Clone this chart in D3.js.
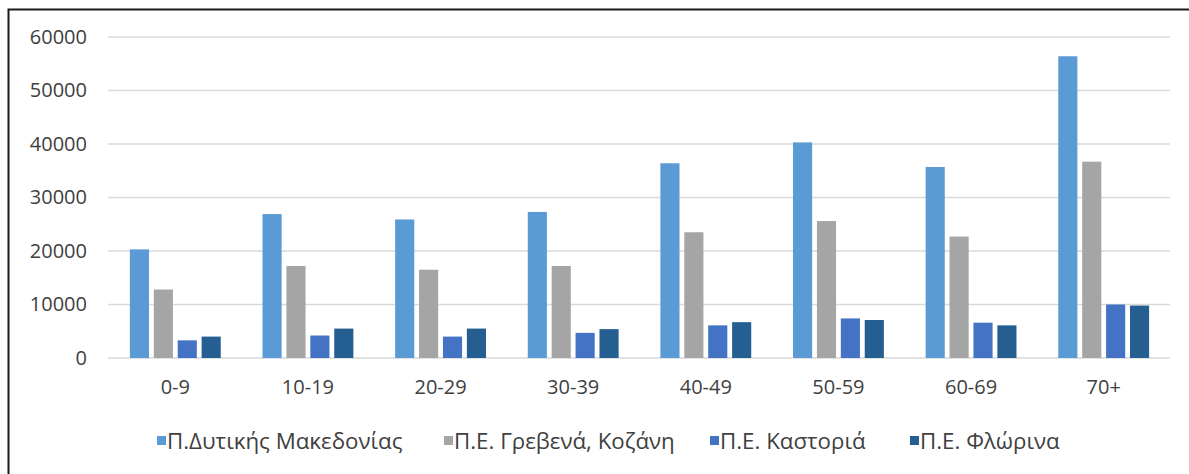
<!DOCTYPE html>
<head>
    <meta charset="utf-8" />
    <script src="https://d3js.org/d3.v7.min.js"></script>
    <style>
        body { margin: 0; background: #fff; }
        text { font-family: "Open Sans", "Noto Sans", sans-serif; fill: #404040; }
    </style>
</head>
<body>
    <script>
        var width = 1189,
            height = 474;

        // donnees
        var ages = ["0-9", "10-19", "20-29", "30-39", "40-49", "50-59", "60-69", "70+"];
        var seriesNames = ["Π.Δυτικής Μακεδονίας", "Π.Ε. Γρεβενά, Κοζάνη", "Π.Ε. Καστοριά", "Π.Ε. Φλώρινα"];
        var dytikiMakedonia = [20300, 26900, 25900, 27300, 36400, 40300, 35700, 56400];
        var grevenaKozani = [12800, 17200, 16500, 17200, 23500, 25600, 22700, 36700];
        var kastoria = [3300, 4200, 4000, 4700, 6100, 7400, 6600, 10000];
        var florina = [4000, 5500, 5500, 5400, 6700, 7100, 6100, 9800];
        var yTicks = [0, 10000, 20000, 30000, 40000, 50000, 60000];
        var colors = ["#5b9bd5", "#a5a5a5", "#4472c4", "#255e91"];

        var series = [dytikiMakedonia, grevenaKozani, kastoria, florina];

        var margin = {left: 109, right: 19, top: 37, bottom: 116};

        var svg = d3.select("body").append("svg")
            .attr("width", width)
            .attr("height", height);

        // cadre du graphique
        svg.append("rect")
            .attr("x", 8.5).attr("y", 9.5)
            .attr("width", 1300).attr("height", 600)
            .attr("fill", "none")
            .attr("stroke", "#1a1a1a")
            .attr("stroke-width", 2);

        var x0 = d3.scaleBand()
            .domain(ages)
            .range([margin.left, width - margin.right])
            .paddingInner(0.315)
            .paddingOuter(0.1575);

        var x1 = d3.scaleBand()
            .domain(d3.range(series.length))
            .range([0, x0.bandwidth()])
            .paddingInner(0.2);

        var y = d3.scaleLinear()
            .domain([0, 60000])
            .range([height - margin.bottom, margin.top]);

        // grille
        svg.append("g")
            .selectAll("line")
            .data(yTicks)
            .join("line")
            .attr("x1", margin.left - 1)
            .attr("x2", width - margin.right)
            .attr("y1", d => y(d))
            .attr("y2", d => y(d))
            .attr("stroke", "#d9d9d9")
            .attr("stroke-width", 1.5);

        // axe y
        var yAxis = svg.append("g")
            .attr("transform", "translate(" + margin.left + ",0)")
            .call(d3.axisLeft(y).tickValues(yTicks).tickSize(0).tickPadding(22).tickFormat(d3.format("d")));
        yAxis.select(".domain").remove();
        yAxis.selectAll("text").style("font-size", "20px").attr("fill", "#404040");

        // axe x
        var xAxis = svg.append("g")
            .attr("transform", "translate(0," + y(0) + ")")
            .call(d3.axisBottom(x0).tickSize(0).tickPadding(22));
        xAxis.select(".domain").remove();
        xAxis.selectAll("text").style("font-size", "20px").attr("fill", "#404040");

        // barres
        svg.append("g")
            .selectAll("g")
            .data(ages)
            .join("g")
            .attr("transform", d => "translate(" + x0(d) + ",0)")
            .selectAll("rect")
            .data((d, i) => series.map((s, k) => ({k: k, v: s[i]})))
            .join("rect")
            .attr("x", d => x1(d.k))
            .attr("width", x1.bandwidth())
            .attr("y", d => y(d.v))
            .attr("height", d => y(0) - y(d.v))
            .attr("fill", d => colors[d.k]);

        // legende
        var legendX = [157, 444, 710, 910];
        var legend = svg.append("g")
            .selectAll("g")
            .data(seriesNames)
            .join("g")
            .attr("transform", (d, i) => "translate(" + legendX[i] + ",441)");
        legend.append("rect")
            .attr("x", 0).attr("y", -5)
            .attr("width", 9).attr("height", 9)
            .attr("fill", (d, i) => colors[i]);
        legend.append("text")
            .attr("x", 10)
            .attr("dy", "0.35em")
            .style("font-size", "22.3px")
            .text(d => d);
    </script>
</body>
